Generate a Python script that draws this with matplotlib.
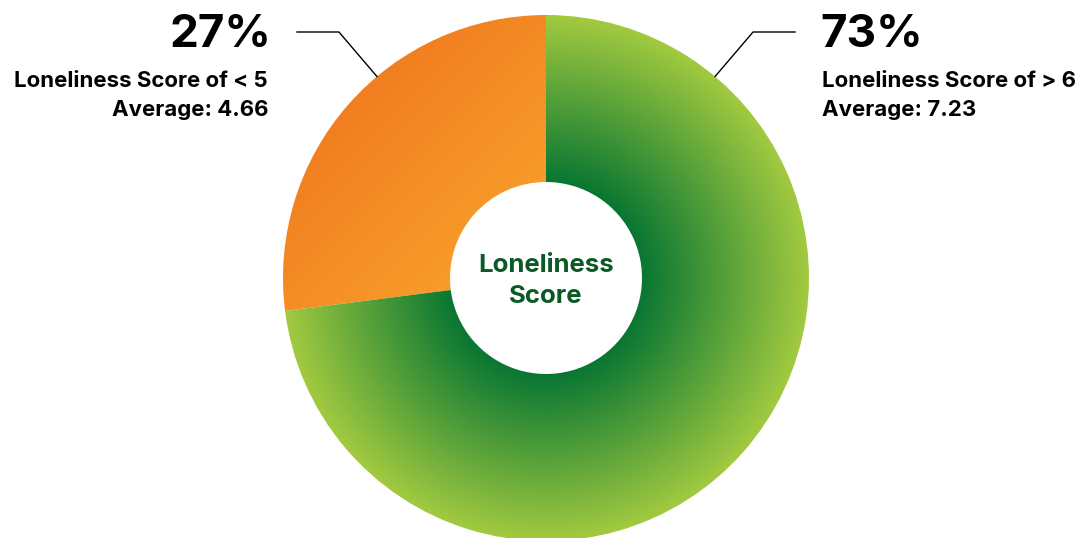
import numpy as np
import matplotlib
matplotlib.use("Agg")
import matplotlib.pyplot as plt
from matplotlib.patches import Wedge

plt.rcParams["font.family"] = ["Inter", "DejaVu Sans"]

# survey split
shares = [27, 73]
group_labels = ["Loneliness Score of < 5", "Loneliness Score of > 6"]
averages = [4.66, 7.23]
center_label = "Loneliness\nScore"

W, H = 1084, 538
cx, cy = 546, H - 278
r_out, r_in = 263, 96


def top(y):
    # y measured from the top edge
    return H - y


def lerp(c0, c1, t):
    c0 = np.array(c0, float) / 255
    c1 = np.array(c1, float) / 255
    return c0 + (c1 - c0) * t[..., None]


fig = plt.figure(figsize=(W / 100, H / 100), dpi=100)
ax = fig.add_axes([0, 0, 1, 1])
ax.set_xlim(0, W)
ax.set_ylim(0, H)
ax.set_aspect("equal")
ax.axis("off")

# wedge angles from the shares, starting at 12 o'clock going counter-clockwise
angles = np.cumsum([0] + shares) / 100 * 360 + 90
extent = [cx - r_out, cx + r_out, cy - r_out, cy + r_out]
n = 700
xs = np.linspace(extent[0], extent[1], n)
ys = np.linspace(extent[2], extent[3], n)
gx, gy = np.meshgrid(xs, ys)

# orange: linear fade from top-left to lower-right
s = ((gx - cx) - (gy - cy))
t_or = np.clip((s + 372) / 372, 0, 1)
orange_img = lerp((241, 126, 32), (250, 165, 45), t_or)

# green: radial fade from the hole outwards
rr = np.hypot(gx - cx, gy - cy)
t_gr = np.clip((rr - r_in) / (r_out - r_in), 0, 1)
green_img = lerp((8, 118, 50), (162, 202, 64), t_gr)

for img, a1, a2 in [(orange_img, angles[0], angles[1]),
                    (green_img, angles[1], angles[2])]:
    wedge = Wedge((cx, cy), r_out, a1, a2, width=r_out - r_in,
                  facecolor="none", edgecolor="none")
    ax.add_patch(wedge)
    im = ax.imshow(img, extent=extent, origin="lower", interpolation="bilinear")
    im.set_clip_path(wedge)

# label in the hole, one line at a time
for line, base in zip(center_label.split("\n"), [272, 303]):
    ax.text(cx, top(base), line, ha="center", va="baseline", fontsize=18.5,
            fontweight="bold", color="#0b5a26")

# leader lines
for ang, sign in [(130, -1), (50, 1)]:
    px = cx + r_out * np.cos(np.radians(ang))
    py = cy + r_out * np.sin(np.radians(ang))
    ex, ey = px + sign * 38, top(32)
    ax.plot([px, ex, ex + sign * 42], [py, ey, ey], color="black", lw=1)

label_x = [268, 822]
pct_x = [271, 820]
label_ha = ["right", "left"]
for i in range(2):
    ax.text(pct_x[i], top(47), f"{shares[i]}%", ha=label_ha[i],
            va="baseline", fontsize=33, fontweight="bold", color="black")
    ax.text(label_x[i], top(87), group_labels[i], ha=label_ha[i],
            va="baseline", fontsize=16, fontweight="bold", color="black")
    ax.text(label_x[i], top(116), f"Average: {averages[i]:.2f}",
            ha=label_ha[i], va="baseline", fontsize=16, fontweight="bold",
            color="black")

fig.savefig("out.png", dpi=100)
